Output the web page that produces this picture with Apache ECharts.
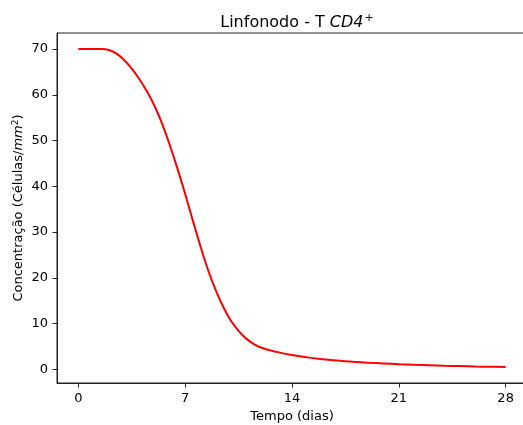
<!DOCTYPE html>
<html>
<head>
<meta charset="utf-8">
<script src="https://cdn.jsdelivr.net/npm/echarts@6/dist/echarts.min.js"></script>
<style>html,body{margin:0;padding:0;background:#fff}#c{width:523px;height:425px}</style>
</head>
<body>
<div id="c"></div>
<script>
// Data
const days = [0,0.5,1,1.5,2,2.5,3,3.5,4,4.5,5,5.5,6,6.5,7,7.5,8,8.5,9,9.5,10,10.5,11,11.5,12,13,14,15,16,17,18,19,20,21,22,23,24,25,26,27,28];
const tcd4 = [70,70,70,70,69.8,69.0,67.6,65.7,63.4,60.7,57.5,53.6,48.9,43.8,38.3,32.5,26.9,21.7,17.3,13.6,10.6,8.4,6.7,5.5,4.7,3.8,3.1,2.6,2.2,1.9,1.65,1.45,1.28,1.12,0.98,0.87,0.77,0.69,0.61,0.55,0.5];
const xTicks = [0,7,14,21,28];
const yTicks = [0,10,20,30,40,50,60,70];

const font = 'DejaVu Sans';
const chart = echarts.init(document.getElementById('c'), null, {renderer:'canvas'});
chart.setOption({
  animation:false,
  backgroundColor:'#fff',
  title:{
    text:'{n|Linfonodo - T }{i|CD4}{s|+}',
    left:292, top:8, textAlign:'center',
    textStyle:{
      fontWeight:'normal',
      rich:{
        n:{fontFamily:font,fontSize:16,fontWeight:'normal',color:'#000'},
        i:{fontFamily:font,fontSize:16,fontWeight:'normal',fontStyle:'italic',color:'#000'},
        s:{fontFamily:font,fontSize:11,fontWeight:'normal',color:'#000',verticalAlign:'top',padding:[0,0,9,1]}
      }
    }
  },
  grid:{left:57, top:33, right:-4, bottom:42, show:true, borderColor:'#222', borderWidth:1, backgroundColor:'transparent', outerBoundsMode:'none', containLabel:false},
  xAxis:{
    type:'value', min:-1.4, max:29.4,
    name:'Tempo (dias)', nameLocation:'middle', nameGap:27, nameMoveOverlap:false,
    nameTextStyle:{fontFamily:font,fontSize:13,color:'#000'},
    axisLine:{show:true,onZero:false,lineStyle:{color:'#222',width:1}},
    axisTick:{show:true,length:4.5,lineStyle:{color:'#222'},customValues:xTicks},
    axisLabel:{fontFamily:font,fontSize:13,color:'#000',margin:9,customValues:xTicks},
    splitLine:{show:false}
  },
  yAxis:{
    type:'value', min:-3.0, max:73.5,
    name:'{n|Concentração (Células/}{i|mm}{s|2}{n|)}', nameLocation:'middle', nameGap:30, nameMoveOverlap:false,
    nameTextStyle:{
      rich:{
        n:{fontFamily:font,fontSize:13,color:'#000'},
        i:{fontFamily:font,fontSize:13,fontStyle:'italic',color:'#000'},
        s:{fontFamily:font,fontSize:9,color:'#000',verticalAlign:'top',padding:[0,0,7,0]}
      }
    },
    axisLine:{show:true,onZero:false,lineStyle:{color:'#222',width:1}},
    axisTick:{show:true,length:4.5,lineStyle:{color:'#222'},customValues:yTicks},
    axisLabel:{fontFamily:font,fontSize:13,color:'#000',margin:9,customValues:yTicks},
    splitLine:{show:false}
  },
  series:[{
    type:'line', data:days.map((d,i)=>[d,tcd4[i]]),
    smooth:0.4, showSymbol:false, symbol:'none',
    lineStyle:{color:'#ff0000',width:2}
  }]
});
</script>
</body>
</html>
